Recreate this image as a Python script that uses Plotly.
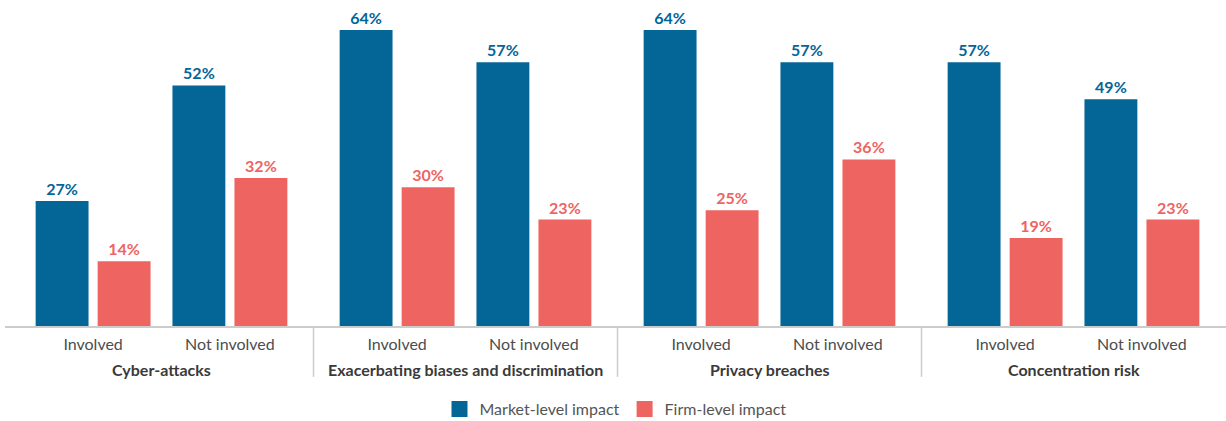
import plotly.graph_objects as go

risks = ["Cyber-attacks", "Exacerbating biases and discrimination", "Privacy breaches", "Concentration risk"]
involvement = ["Involved", "Not involved"]
market_level = [27, 52, 64, 57, 64, 57, 57, 49]
firm_level = [14, 32, 30, 23, 25, 36, 19, 23]

BLUE = "#046597"
RED = "#EE6461"
AXIS_GREY = "#CCCCCC"

# layout geometry (axis units: one unit per risk group)
PAIR_OFFSET = 0.225     # offset of Involved / Not involved from group center
BAR_OFFSET = 0.102      # offset of each series from pair center
BAR_WIDTH = 0.174

pair_x = [g + (j - 0.5) * 2 * PAIR_OFFSET for g in range(len(risks)) for j in range(len(involvement))]
pair_text = [inv for _ in risks for inv in involvement]
market_x = [p - BAR_OFFSET for p in pair_x]
firm_x = [p + BAR_OFFSET for p in pair_x]

label_font = dict(family="Lato", size=16, weight="bold")

fig = go.Figure()
fig.add_trace(go.Bar(
    x=market_x, y=market_level, width=BAR_WIDTH, name="Market-level impact",
    marker=dict(color=BLUE, line=dict(width=0)),
    texttemplate="%{y}%", textposition="outside",
    textfont=dict(**label_font, color=BLUE),
    cliponaxis=False, showlegend=False,
))
fig.add_trace(go.Bar(
    x=firm_x, y=firm_level, width=BAR_WIDTH, name="Firm-level impact",
    marker=dict(color=RED, line=dict(width=0)),
    texttemplate="%{y}%", textposition="outside",
    textfont=dict(**label_font, color=RED),
    cliponaxis=False, showlegend=False,
))
# legend entries (square swatches)
for name, col in [("Market-level impact", BLUE), ("Firm-level impact", RED)]:
    fig.add_trace(go.Scatter(
        x=[None], y=[None], mode="markers", name=name,
        marker=dict(symbol="square", size=18, color=col),
    ))

# group labels and dividers
for g, risk in enumerate(risks):
    fig.add_annotation(
        x=g, y=-0.139, xref="x", yref="paper", text=f"<b>{risk}</b>",
        showarrow=False, xanchor="center", yanchor="middle",
        font=dict(family="Lato", size=16, color="#3A3A3A"),
    )
for g in range(len(risks) - 1):
    fig.add_shape(
        type="line", xref="x", yref="paper", x0=g + 0.5, x1=g + 0.5, y0=0, y1=-0.161,
        line=dict(color=AXIS_GREY, width=1.5),
    )

fig.update_layout(
    width=1226, height=421,
    margin=dict(l=5, r=0, t=10, b=95),
    paper_bgcolor="white", plot_bgcolor="white",
    barmode="overlay",
    font=dict(family="Lato", size=16, color="#4D4D4D"),
    showlegend=True,
    legend=dict(orientation="h", x=0.5, xanchor="center", xref="paper",
                y=0.028, yanchor="middle", yref="container",
                font=dict(family="Lato", size=16, color="#555555"),
                traceorder="normal", itemsizing="trace"),
)
fig.update_xaxes(
    range=[-0.5148, 3.5016], automargin=False,
    tickmode="array", tickvals=pair_x, ticktext=pair_text,
    showline=True, linecolor=AXIS_GREY, linewidth=1.5,
    ticks="", showgrid=False, zeroline=False, ticklabelstandoff=3,
    tickfont=dict(family="Lato", size=16, color="#4D4D4D"),
)
fig.update_yaxes(visible=False, range=[0, 68.32], showgrid=False, zeroline=False, automargin=False)

fig.write_html("out.html", config={"displayModeBar": False},
               post_script="document.body.style.margin='0';document.body.style.overflow='hidden';")
